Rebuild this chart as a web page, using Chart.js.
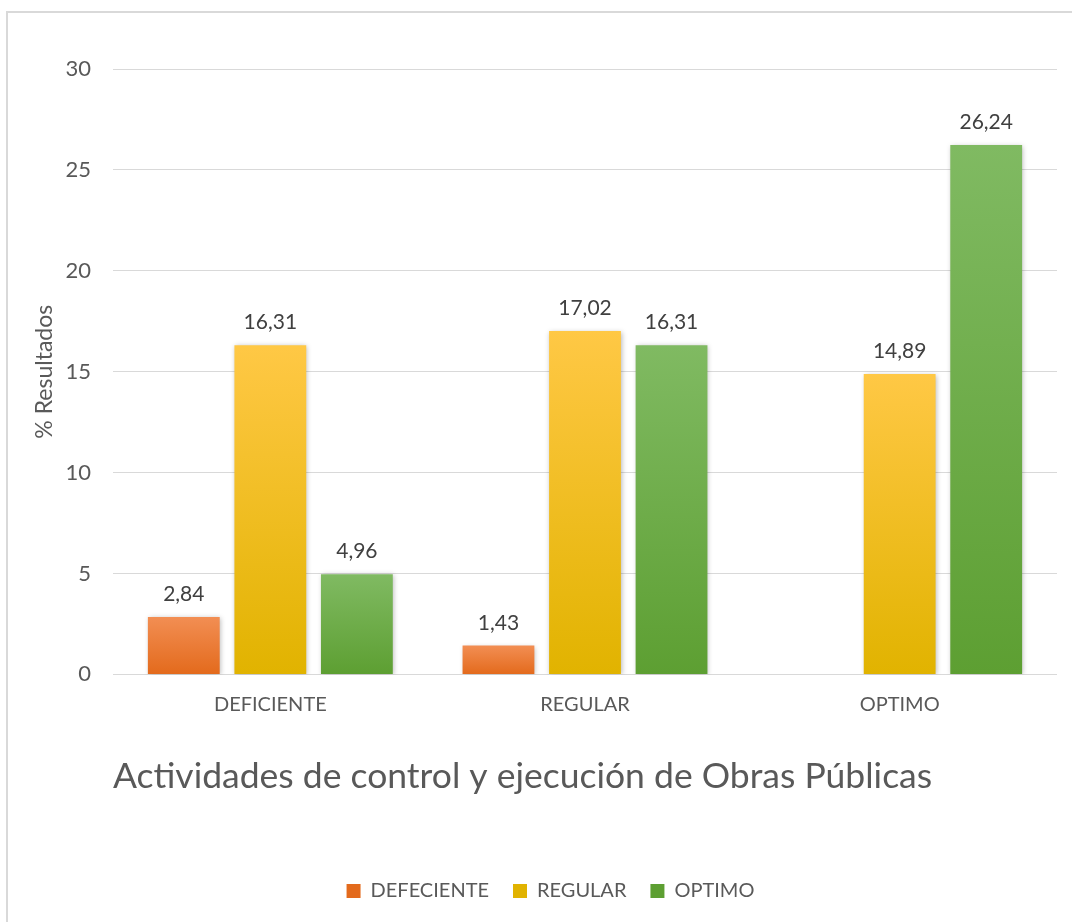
<!DOCTYPE html>
<html>
<head>
<meta charset="utf-8">
<script src="https://cdn.jsdelivr.net/npm/chart.js@4.4.1/dist/chart.umd.min.js"></script>
<style>
    html, body {
        margin: 0;
        padding: 0;
        background: #ffffff;
        overflow: hidden;
        width: 1072px;
        height: 922px;
    }
    #frame {
        position: absolute;
        left: 6px;
        top: 11px;
        width: 2000px;
        height: 2000px;
        border-left: 2px solid #d9d9d9;
        border-top: 2px solid #d9d9d9;
    }
    #grafico {
        position: absolute;
        left: 0;
        top: 0;
    }
</style>
</head>
<body>
<div id="frame"></div>
<canvas id="grafico" width="1125" height="922"></canvas>

<script>
// Datos del grafico
const categorias = ["DEFICIENTE", "REGULAR", "OPTIMO"];
const deficiente = [2.84, 1.43, null];
const regular = [16.31, 17.02, 14.89];
const optimo = [4.96, 16.31, 26.24];
const series = ["DEFECIENTE", "REGULAR", "OPTIMO"];
const ticksY = [0, 5, 10, 15, 20, 25, 30];

const FUENTE = "Lato, 'Open Sans', sans-serif";

// colores: [arriba, abajo, base]
const colores = {
    naranja: ["#f28e53", "#e36a1c", "#ed7d31"],
    amarillo: ["#ffc845", "#e1b300", "#ffc000"],
    verde: ["#80ba62", "#5d9f32", "#70ad47"]
};

function degradado(col) {
    return ctx => {
        if (ctx.type !== "data" || ctx.raw == null) {
            return col[2];
        }
        const chart = ctx.chart;
        const y = chart.scales.y;
        if (!chart.chartArea || !y) {
            return col[2];
        }
        const top = y.getPixelForValue(ctx.raw);
        const bottom = y.getPixelForValue(0);
        if (!isFinite(top) || bottom - top < 1) {
            return col[2];
        }
        const g = chart.ctx.createLinearGradient(0, top, 0, bottom);
        g.addColorStop(0, col[0]);
        g.addColorStop(1, col[1]);
        return g;
    };
}

// sombra de las barras
const sombra = {
    id: "sombra",
    beforeDatasetsDraw(chart) {
        const c = chart.ctx;
        c.save();
        c.shadowColor = "rgba(0,0,0,0.28)";
        c.shadowBlur = 5;
        c.shadowOffsetX = 1;
        c.shadowOffsetY = 1;
    },
    afterDatasetsDraw(chart) {
        chart.ctx.restore();
    }
};

// leyenda un poco mas a la derecha
const moverLeyenda = {
    id: "moverLeyenda",
    afterLayout(chart) {
        if (chart.legend) {
            chart.legend.left += 11;
            chart.legend.right += 11;
        }
    }
};

// etiquetas de valores
const etiquetas = {
    id: "etiquetas",
    afterDraw(chart) {
        const c = chart.ctx;
        c.save();
        c.font = "21px " + FUENTE;
        c.fillStyle = "#404040";
        c.textAlign = "center";
        c.textBaseline = "alphabetic";
        chart.data.datasets.forEach((ds, i) => {
            const meta = chart.getDatasetMeta(i);
            meta.data.forEach((bar, j) => {
                const v = ds.data[j];
                if (v == null) return;
                c.fillText(v.toFixed(2).replace(".", ","), bar.x, bar.y - 16);
            });
        });
        c.restore();
    }
};

new Chart(document.getElementById("grafico"), {
    type: "bar",
    data: {
        labels: categorias,
        datasets: [
            { label: series[0], data: deficiente, backgroundColor: degradado(colores.naranja) },
            { label: series[1], data: regular, backgroundColor: degradado(colores.amarillo) },
            { label: series[2], data: optimo, backgroundColor: degradado(colores.verde) }
        ]
    },
    options: {
        responsive: false,
        animation: false,
        devicePixelRatio: 1,
        categoryPercentage: 0.825,
        barPercentage: 0.83,
        layout: {
            padding: { top: 69, right: 68, bottom: 11, left: 22 }
        },
        scales: {
            x: {
                grid: { display: false },
                border: { display: false },
                ticks: {
                    color: "#595959",
                    padding: 10,
                    font: { family: FUENTE, size: 20 }
                }
            },
            y: {
                min: 0,
                max: 30,
                afterBuildTicks: scale => {
                    scale.ticks = ticksY.map(v => ({ value: v }));
                },
                afterFit: scale => {
                    scale.width = 91;
                },
                grid: { color: "#d9d9d9", lineWidth: 1, drawTicks: false },
                border: { display: false },
                ticks: {
                    color: "#595959",
                    padding: 22,
                    font: { family: FUENTE, size: 22 }
                },
                title: {
                    display: true,
                    text: "% Resultados",
                    color: "#595959",
                    padding: { top: 9, bottom: 9 },
                    font: { family: FUENTE, size: 23 }
                }
            }
        },
        plugins: {
            title: {
                display: true,
                text: "Actividades de control y ejecución de Obras Públicas",
                position: "bottom",
                align: "start",
                fullSize: false,
                color: "#595959",
                padding: { top: 29, bottom: 59 },
                font: { family: FUENTE, size: 35.5, weight: "normal" }
            },
            legend: {
                position: "bottom",
                weight: 3000,
                labels: {
                    color: "#595959",
                    boxWidth: 14,
                    boxHeight: 14,
                    padding: 24,
                    font: { family: FUENTE, size: 20 }
                }
            },
            tooltip: { enabled: false }
        }
    },
    plugins: [sombra, moverLeyenda, etiquetas]
});
</script>
</body>
</html>
